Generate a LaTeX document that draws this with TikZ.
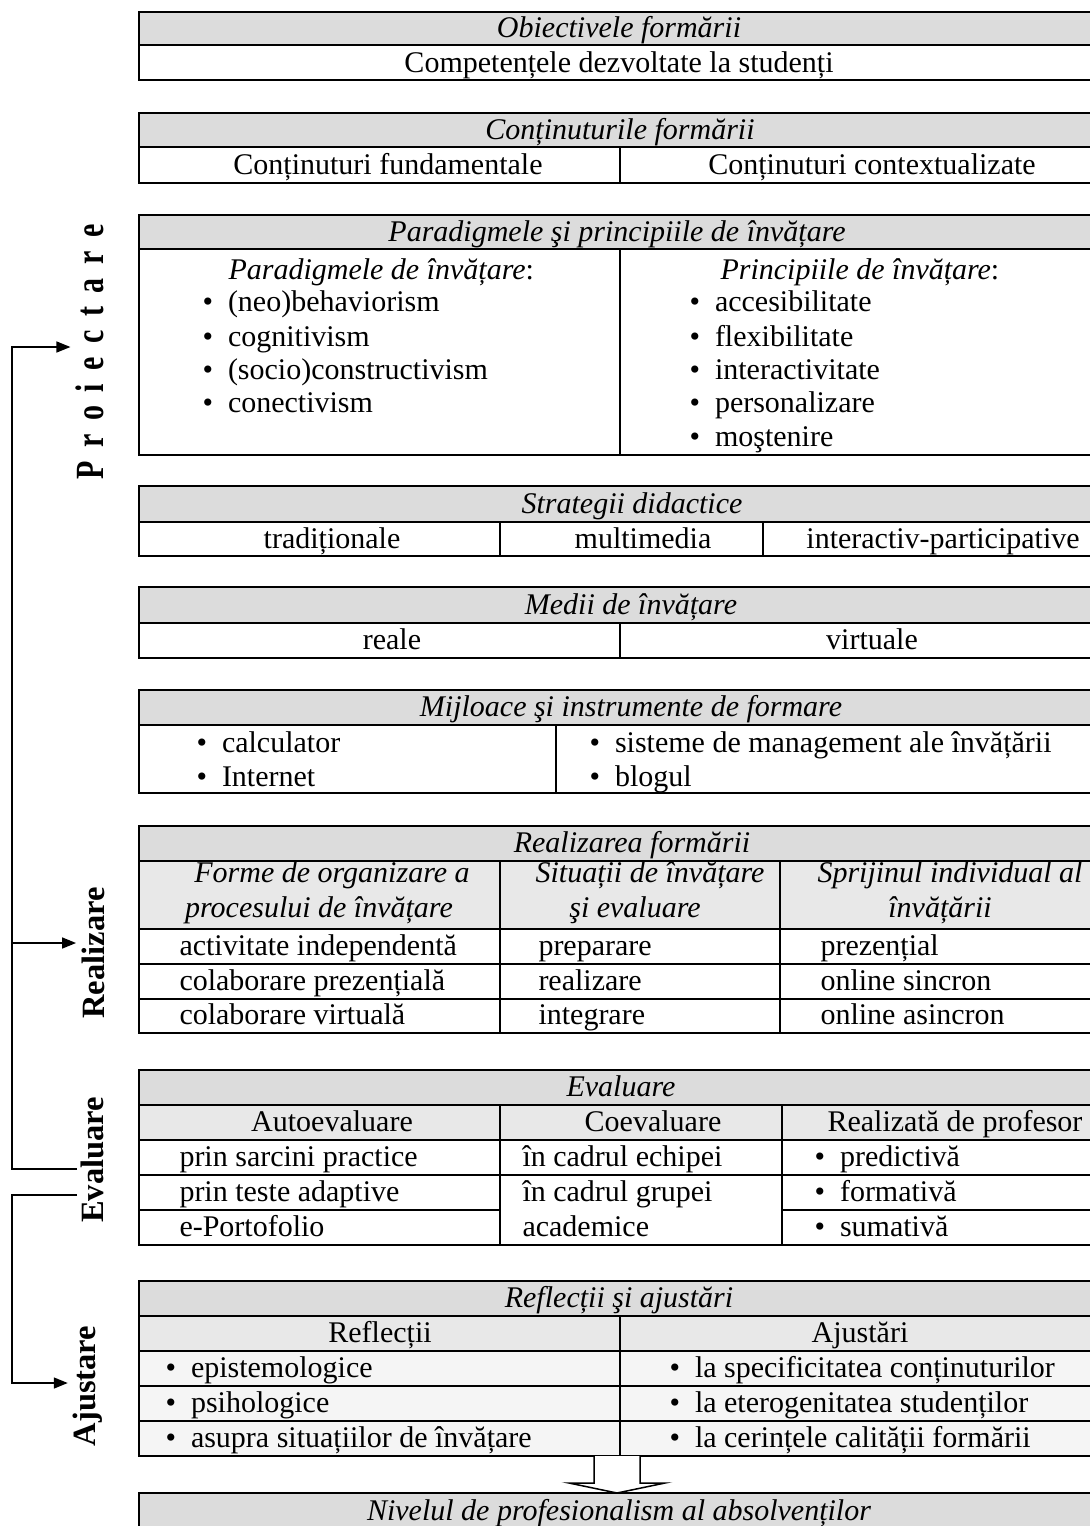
\documentclass[tikz,border=0pt]{standalone}
\usepackage{fontspec}
\setmainfont{Liberation Serif}
\usetikzlibrary{arrows.meta}

\definecolor{hdgray}{HTML}{DCDCDC}
\definecolor{subgray}{HTML}{E8E8E8}
\definecolor{rowgray}{HTML}{F5F5F5}

\begin{document}
\begin{tikzpicture}[
  x=0.4pt, y=-0.4pt,
  every node/.style={font=\fontsize{12}{13.4}\selectfont, inner sep=0pt},
  grid/.style={draw, line width=0.75pt},
  hd/.style={fill=hdgray},
  sub/.style={fill=subgray},
  band/.style={fill=rowgray},
  ttl/.style={anchor=base, font=\fontsize{12}{13.4}\selectfont\itshape},
  txt/.style={anchor=base},
  lft/.style={anchor=base west},
  side/.style={rotate=90, inner sep=2pt, font=\fontsize{13}{15}\selectfont\bfseries},
  conn/.style={line width=0.6pt},
  arrow/.style={conn, -{Triangle[length=5.6pt, width=4.4pt]}}
]
  \useasboundingbox (0,0) rectangle (1090,1526);

  % Obiectivele formarii
  \fill[hd] (139,12) rectangle (1112,45);
  \draw[grid] (139,12) rectangle (1112,80);
  \draw[grid] (139,45) -- (1112,45);
  \node[ttl] (obj) at (619,37) {Obiectivele formării};
  \node[txt] (comp) at (619,72) {Competențele dezvoltate la studenți};

  % Continuturile formarii
  \fill[hd] (139,113) rectangle (1112,147);
  \draw[grid] (139,113) rectangle (1112,183);
  \draw[grid] (139,147) -- (1112,147) (620,147) -- (620,183);
  \node[ttl] (cont) at (620,139) {Conținuturile formării};
  \node[txt] (fund) at (388,174) {Conținuturi fundamentale};
  \node[txt] (ctx) at (872,174) {Conținuturi contextualizate};

  % Paradigme si principii
  \fill[hd] (139,215) rectangle (1112,249);
  \draw[grid] (139,215) rectangle (1112,455);
  \draw[grid] (139,249) -- (1112,249) (620,249) -- (620,455);
  \node[ttl] (para) at (617,241) {Paradigmele şi principiile de învățare};
  \node[lft] (parh) at (228,279) {\textit{Paradigmele de învățare}:};
  \node[lft] (par1) at (202,311) {\textbullet\enspace(neo)behaviorism};
  \node[lft] (par2) at (202,346) {\textbullet\enspace cognitivism};
  \node[lft] (par3) at (202,379) {\textbullet\enspace(socio)constructivism};
  \node[lft] (par4) at (202,412) {\textbullet\enspace conectivism};
  \node[lft] (prih) at (720,279) {\textit{Principiile de învățare}:};
  \node[lft] (pri1) at (689,311) {\textbullet\enspace accesibilitate};
  \node[lft] (pri2) at (689,346) {\textbullet\enspace flexibilitate};
  \node[lft] (pri3) at (689,379) {\textbullet\enspace interactivitate};
  \node[lft] (pri4) at (689,412) {\textbullet\enspace personalizare};
  \node[lft] (pri5) at (689,446) {\textbullet\enspace moştenire};

  % Strategii didactice
  \fill[hd] (139,486) rectangle (1112,522);
  \draw[grid] (139,486) rectangle (1112,556);
  \draw[grid] (139,522) -- (1112,522) (500,522) -- (500,556) (763,522) -- (763,556);
  \node[ttl] (strat) at (632,513) {Strategii didactice};
  \node[txt] (trad) at (332,548) {tradiționale};
  \node[txt] (mult) at (643,548) {multimedia};
  \node[txt] (inter) at (943,548) {interactiv-participative};

  % Medii de invatare
  \fill[hd] (139,587) rectangle (1112,623);
  \draw[grid] (139,587) rectangle (1112,658);
  \draw[grid] (139,623) -- (1112,623) (620,623) -- (620,658);
  \node[ttl] (medii) at (631,614) {Medii de învățare};
  \node[txt] (reale) at (392,649) {reale};
  \node[txt] (virt) at (872,649) {virtuale};

  % Mijloace si instrumente
  \fill[hd] (139,690) rectangle (1112,725);
  \draw[grid] (139,690) rectangle (1112,793);
  \draw[grid] (139,725) -- (1112,725) (556,725) -- (556,793);
  \node[ttl] (mij) at (631,716) {Mijloace şi instrumente de formare};
  \node[lft] (calc) at (196,752) {\textbullet\enspace calculator};
  \node[lft] (inet) at (196,786) {\textbullet\enspace Internet};
  \node[lft] (lms) at (589,752) {\textbullet\enspace sisteme de management ale învățării};
  \node[lft] (blog) at (589,786) {\textbullet\enspace blogul};

  % Realizarea formarii
  \fill[hd] (139,826) rectangle (1112,861);
  \fill[sub] (139,861) rectangle (1112,929);
  \draw[grid] (139,826) rectangle (1112,1033);
  \draw[grid] (139,861) -- (1112,861) (139,929) -- (1112,929)
    (139,964) -- (1112,964) (139,999) -- (1112,999);
  \draw[grid] (500,861) -- (500,1033) (780,861) -- (780,1033);
  \node[ttl] (realf) at (632,852) {Realizarea formării};
  \node[ttl] (forme) at (332,882) {Forme de organizare a};
  \node[ttl] (proc) at (319,917) {procesului de învățare};
  \node[ttl] (situ) at (650,882) {Situații de învățare};
  \node[ttl] (siev) at (635,917) {şi evaluare};
  \node[ttl] (sprij) at (950,882) {Sprijinul individual al};
  \node[ttl] (invt) at (940,917) {învățării};
  \node[lft] (act) at (179,955) {activitate independentă};
  \node[lft] (colp) at (179,990) {colaborare prezențială};
  \node[lft] (colv) at (179,1024) {colaborare virtuală};
  \node[lft] (prep) at (538,955) {preparare};
  \node[lft] (rea) at (538,990) {realizare};
  \node[lft] (integ) at (538,1024) {integrare};
  \node[lft] (prez) at (820,955) {prezențial};
  \node[lft] (sinc) at (820,990) {online sincron};
  \node[lft] (asinc) at (820,1024) {online asincron};

  % Evaluare
  \fill[hd] (139,1070) rectangle (1112,1105);
  \fill[sub] (139,1105) rectangle (1112,1140);
  \draw[grid] (139,1070) rectangle (1112,1245);
  \draw[grid] (139,1105) -- (1112,1105) (139,1140) -- (1112,1140) (139,1175) -- (1112,1175)
    (139,1210) -- (500,1210) (782,1210) -- (1112,1210);
  \draw[grid] (500,1105) -- (500,1245) (782,1105) -- (782,1245);
  \node[ttl] (evh) at (621,1096) {Evaluare};
  \node[txt] (autoev) at (332,1131) {Autoevaluare};
  \node[txt] (coev) at (653,1131) {Coevaluare};
  \node[txt] (prof) at (955,1131) {Realizată de profesor};
  \node[lft] (sarc) at (179,1166) {prin sarcini practice};
  \node[lft] (teste) at (179,1201) {prin teste adaptive};
  \node[lft] (port) at (179,1236) {e-Portofolio};
  \node[lft] (echip) at (522,1166) {în cadrul echipei};
  \node[lft] (grup) at (522,1201) {în cadrul grupei};
  \node[lft] (acad) at (522,1236) {academice};
  \node[lft] (pred) at (814,1166) {\textbullet\enspace predictivă};
  \node[lft] (form) at (814,1201) {\textbullet\enspace formativă};
  \node[lft] (sum) at (814,1236) {\textbullet\enspace sumativă};

  % Reflectii si ajustari
  \fill[hd] (139,1281) rectangle (1112,1316);
  \fill[sub] (139,1316) rectangle (1112,1351);
  \fill[band] (139,1351) rectangle (1112,1456);
  \draw[grid] (139,1281) rectangle (1112,1456);
  \draw[grid] (139,1316) -- (1112,1316) (139,1351) -- (1112,1351)
    (139,1386) -- (1112,1386) (139,1421) -- (1112,1421) (620,1316) -- (620,1456);
  \node[ttl] (refh) at (619,1307) {Reflecții şi ajustări};
  \node[txt] (refl) at (380,1342) {Reflecții};
  \node[txt] (ajst) at (860,1342) {Ajustări};
  \node[lft] (epis) at (165,1377) {\textbullet\enspace epistemologice};
  \node[lft] (psih) at (165,1412) {\textbullet\enspace psihologice};
  \node[lft] (asup) at (165,1447) {\textbullet\enspace asupra situațiilor de învățare};
  \node[lft] (spec) at (669,1377) {\textbullet\enspace la specificitatea conținuturilor};
  \node[lft] (eter) at (669,1412) {\textbullet\enspace la eterogenitatea studenților};
  \node[lft] (cer) at (669,1447) {\textbullet\enspace la cerințele calității formării};

  % block arrow and Nivelul
  \draw[conn, fill=white] (594,1456) -- (594,1483) -- (569,1483) -- (617,1493)
    -- (665,1483) -- (640,1483) -- (640,1456);
  \fill[hd] (139,1493) rectangle (1112,1540);
  \draw[grid] (139,1540) -- (139,1493) -- (1112,1493);
  \node[ttl] (niv) at (619,1520) {Nivelul de profesionalism al absolvenților};

  % side labels
  \node[side, xscale=0.75, font=\fontsize{16}{18}\selectfont\bfseries] (proi) at (90,352)
    {\spaceskip=7.2pt P r o i e c t a r e};
  \node[side] (real) at (93,953) {Realizare};
  \node[side] (eval) at (92,1160) {Evaluare};
  \node[side] (ajus) at (88,1386) {Ajustare};

  % connectors
  \coordinate (evin) at (77,1169);
  \coordinate (evout) at (77,1195);
  \coordinate (k1) at (12,1169);
  \coordinate (k2) at (12,1195);
  \coordinate (kp) at (12,347);
  \coordinate (kr) at (12,943);
  \coordinate (ka) at (12,1383);
  \draw[arrow] (evin) -- (k1) -- (kp) -- (kp -| proi.north);
  \draw[arrow] (kr) -- (kr -| real.north);
  \draw[arrow] (evout) -- (k2) -- (ka) -- (ka -| ajus.north);
\end{tikzpicture}
\end{document}
